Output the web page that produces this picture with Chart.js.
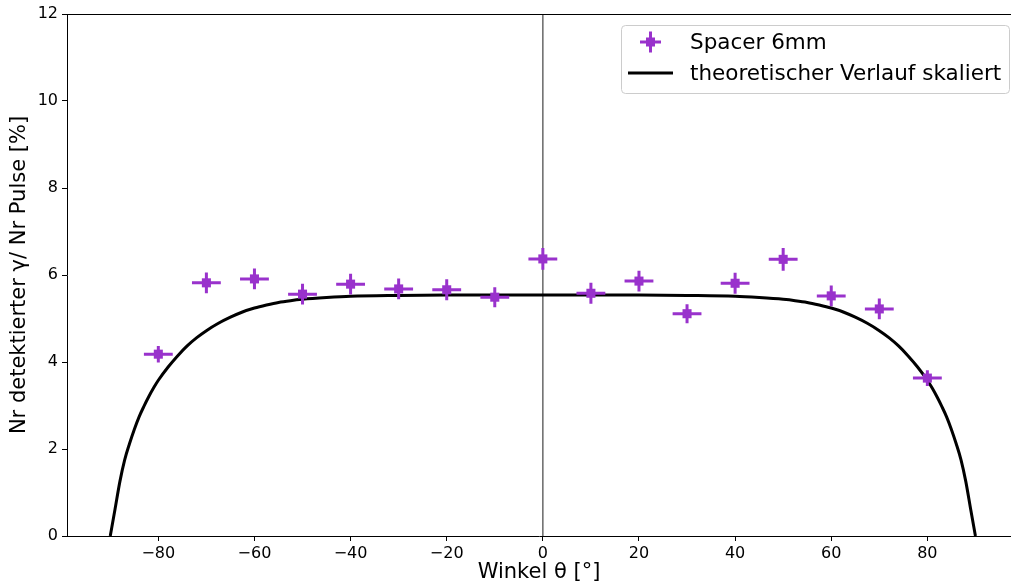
<!DOCTYPE html>
<html lang="de">
<head>
  <meta charset="UTF-8" />
  <title>Spacer 6mm - Winkelverteilung</title>
  <script src="https://cdn.jsdelivr.net/npm/chart.js"></script>
  <style>
    body { margin: 0; background: #fff; }
    canvas { display: block; }
  </style>
</head>
<body>
  <canvas id="chart" width="1011" height="586"></canvas>

  <script>
    // Messwerte
    const angles = [-80, -70, -60, -50, -40, -30, -20, -10, 0, 10, 20, 30, 40, 50, 60, 70, 80];
    const rates = [4.18, 5.82, 5.91, 5.56, 5.79, 5.68, 5.66, 5.49, 6.37, 5.58, 5.86, 5.11, 5.81, 6.36, 5.52, 5.22, 3.63];
    const rateErr = [0.19, 0.24, 0.24, 0.24, 0.24, 0.24, 0.24, 0.23, 0.25, 0.24, 0.24, 0.22, 0.24, 0.26, 0.24, 0.24, 0.18];
    const angleErr = [3, 3, 3, 3, 3, 3, 3, 3, 3, 3, 3, 3, 3, 3, 3, 3, 3];

    // theoretischer Verlauf
    const curveAngles = [-90, -89, -88, -87, -86, -85, -84, -83, -82, -81, -80, -78, -76, -74, -72, -70, -67.5, -65, -62.5, -60, -57.5, -55, -52.5, -50, -45, -40, -30, -20, -10,
      0, 10, 20, 30, 40, 45, 50, 52.5, 55, 57.5, 60, 62.5, 65, 67.5, 70, 72, 74, 76, 78, 80, 81, 82, 83, 84, 85, 86, 87, 88, 89, 90];
    const curveValues = [0, 0.62, 1.25, 1.75, 2.12, 2.45, 2.74, 2.98, 3.2, 3.4, 3.58, 3.88, 4.14, 4.37, 4.56, 4.72, 4.89, 5.03, 5.15, 5.24, 5.31, 5.37, 5.41, 5.44, 5.48, 5.51, 5.53, 5.54, 5.54,
      5.54, 5.54, 5.54, 5.53, 5.51, 5.48, 5.44, 5.41, 5.37, 5.31, 5.24, 5.15, 5.03, 4.89, 4.72, 4.56, 4.37, 4.14, 3.88, 3.58, 3.4, 3.2, 2.98, 2.74, 2.45, 2.12, 1.75, 1.25, 0.62, 0];

    const xTicks = [-80, -60, -40, -20, 0, 20, 40, 60, 80];
    const yTicks = [0, 2, 4, 6, 8, 10, 12];

    const purple = '#9932CC';
    const font = "'DejaVu Sans', sans-serif";

    const pointData = angles.map((a, i) => ({ x: a, y: rates[i] }));
    const curveData = curveAngles.map((a, i) => ({ x: a, y: curveValues[i] }));

    const extras = {
      id: 'extras',
      beforeDatasetsDraw(chart) {
        const { ctx, chartArea: ca, scales: { x } } = chart;
        const px = x.getPixelForValue(0);
        ctx.save();
        ctx.strokeStyle = 'rgba(0,0,0,0.6)';
        ctx.lineWidth = 1.5;
        ctx.beginPath();
        ctx.moveTo(px, ca.top);
        ctx.lineTo(px, ca.bottom);
        ctx.stroke();
        ctx.restore();
      },
      afterDatasetsDraw(chart) {
        const { ctx, chartArea: ca, scales: { x, y } } = chart;
        ctx.save();
        // Fehlerbalken
        ctx.strokeStyle = purple;
        ctx.lineWidth = 3;
        angles.forEach((a, i) => {
          const cx = x.getPixelForValue(a);
          const cy = y.getPixelForValue(rates[i]);
          ctx.beginPath();
          ctx.moveTo(x.getPixelForValue(a - angleErr[i]), cy);
          ctx.lineTo(x.getPixelForValue(a + angleErr[i]), cy);
          ctx.moveTo(cx, y.getPixelForValue(rates[i] - rateErr[i]));
          ctx.lineTo(cx, y.getPixelForValue(rates[i] + rateErr[i]));
          ctx.stroke();
        });
        // obere Achse
        ctx.strokeStyle = '#000';
        ctx.lineWidth = 1;
        ctx.beginPath();
        ctx.moveTo(ca.left, ca.top + 0.5);
        ctx.lineTo(ca.right, ca.top + 0.5);
        ctx.stroke();

        // Legende
        ctx.fillStyle = 'rgba(255,255,255,0.85)';
        ctx.strokeStyle = '#cccccc';
        ctx.beginPath();
        ctx.roundRect(621.5, 25.5, 388, 68, 4);
        ctx.fill();
        ctx.stroke();

        ctx.strokeStyle = purple;
        ctx.lineWidth = 3;
        ctx.beginPath();
        ctx.moveTo(640, 42); ctx.lineTo(661, 42);
        ctx.moveTo(650.5, 31.5); ctx.lineTo(650.5, 52.5);
        ctx.stroke();
        ctx.fillStyle = purple;
        ctx.fillRect(646, 37.5, 9, 9);

        ctx.strokeStyle = '#000';
        ctx.beginPath();
        ctx.moveTo(628, 73); ctx.lineTo(673, 73);
        ctx.stroke();

        ctx.fillStyle = '#000';
        ctx.font = '21.5px ' + font;
        ctx.textBaseline = 'middle';
        ctx.fillText('Spacer 6mm', 690, 43);
        ctx.fillText('theoretischer Verlauf skaliert', 690, 74);
        ctx.restore();
      }
    };

    new Chart(document.getElementById('chart'), {
      type: 'scatter',
      data: {
        datasets: [
          {
            label: 'Spacer 6mm',
            data: pointData,
            backgroundColor: purple,
            borderColor: purple,
            pointStyle: 'rect',
            pointRadius: 6.4,
            borderWidth: 0,
            order: 0
          },
          {
            label: 'theoretischer Verlauf skaliert',
            data: curveData,
            showLine: true,
            borderColor: '#000',
            borderWidth: 3,
            pointRadius: 0,
            cubicInterpolationMode: 'monotone',
            order: 1
          }
        ]
      },
      options: {
        responsive: false,
        animation: false,
        layout: { autoPadding: false, padding: { top: 14, right: 0, left: 0, bottom: 0 } },
        plugins: { legend: { display: false }, tooltip: { enabled: false } },
        scales: {
          x: {
            type: 'linear',
            min: -99,
            max: 97.4,
            afterBuildTicks: s => { s.ticks = xTicks.map(v => ({ value: v })); },
            afterFit: s => { s.height = 50; s.paddingLeft = 0; s.paddingRight = 0; },
            grid: { drawOnChartArea: false, drawTicks: true, tickLength: 5, color: '#000' },
            border: { display: true, color: '#000', width: 1 },
            ticks: {
              color: '#000',
              font: { family: font, size: 16 },
              padding: 3,
              maxRotation: 0,
              callback: v => String(v).replace('-', '\u2212')
            },
            title: {
              display: true,
              text: 'Winkel θ [°]',
              color: '#000',
              font: { family: font, size: 21 },
              padding: { top: 0, bottom: 1 }
            }
          },
          y: {
            min: 0,
            max: 12,
            afterBuildTicks: s => { s.ticks = yTicks.map(v => ({ value: v })); },
            afterFit: s => { s.width = 67; s.paddingTop = 0; s.paddingBottom = 0; },
            grid: { drawOnChartArea: false, drawTicks: true, tickLength: 5, color: '#000' },
            border: { display: true, color: '#000', width: 1 },
            ticks: {
              color: '#000',
              font: { family: font, size: 16 },
              padding: 4
            },
            title: {
              display: true,
              text: 'Nr detektierter γ/ Nr Pulse [%]',
              color: '#000',
              font: { family: font, size: 21 },
              padding: { top: 7, bottom: 0 }
            }
          }
        }
      },
      plugins: [extras]
    });
  </script>
</body>
</html>
